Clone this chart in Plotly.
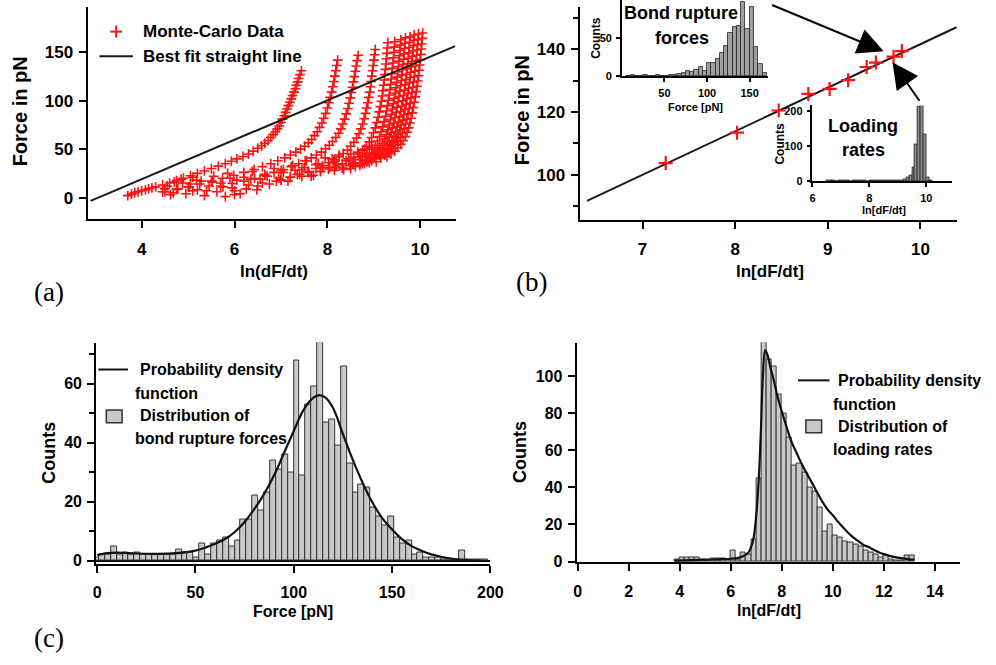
import plotly.graph_objects as go

W, H = 996, 665
FONT = "Liberation Sans, Arial, sans-serif"

# ---------------- (a) Monte-Carlo data, force vs ln(dF/dt) ----------------
c1_x = [3.70, 3.78, 3.85, 3.92, 4.00, 4.08, 4.15, 4.22, 4.30, 4.45, 4.60, 4.75, 4.90,
        5.05, 5.20, 5.35, 5.50, 5.65, 5.80, 5.93, 6.05, 6.18, 6.30, 6.40, 6.50, 6.58,
        6.65, 6.72, 6.78, 6.83, 6.88, 6.92, 6.96, 7.00, 7.03, 7.07, 7.10, 7.13, 7.16,
        7.19, 7.22, 7.25, 7.28, 7.31, 7.33, 7.36, 7.38, 7.41, 7.44]
c1_y = [2, 3.5, 5, 6, 7, 8, 9, 10, 11, 13, 15, 17.5, 20, 22.5, 25, 27.5, 30, 32.5, 35,
        37.5, 40, 42.5, 45, 48, 51, 53.5, 56, 59, 62, 65, 68, 71, 74, 77.5, 81, 84.5, 88,
        91.5, 95, 98.5, 102, 105.5, 109, 112.5, 116, 119.5, 123, 127, 131]
c2_x = [8.22, 8.20, 8.18, 8.16, 8.14, 8.115, 8.09, 8.06, 8.03, 8.00, 7.96, 7.92, 7.88,
        7.83, 7.78, 7.72, 7.66, 7.59, 7.51, 7.42, 7.32, 7.20, 7.08, 6.93, 6.78, 6.60,
        6.42, 6.20, 5.98, 5.74, 5.50, 5.25, 5.00, 4.75, 4.50]
c2_y = [142, 136.5, 131, 125.5, 120, 114.5, 109, 103.5, 98, 92.5, 87, 82, 77, 72.5, 68,
        64, 60, 56.5, 53, 50, 47, 44, 41, 38, 35, 32, 29, 26, 23, 20, 17, 14, 11, 8.5, 6]
c3_x = [8.66, 8.64, 8.62, 8.60, 8.58, 8.56, 8.54, 8.515, 8.49, 8.465, 8.44, 8.405, 8.37,
        8.33, 8.29, 8.24, 8.18, 8.11, 8.04, 7.96, 7.87, 7.76, 7.65, 7.52, 7.38, 7.22,
        7.05, 6.85, 6.65, 6.43, 6.20, 5.95, 5.70, 5.10]
c3_y = [147, 141.5, 136, 130.5, 125, 119.5, 114, 108.5, 103, 97.5, 92, 86.5, 81, 76, 71,
        66.5, 62, 58, 54, 50.5, 47, 44, 41, 38, 35, 32, 29, 26, 23, 20, 17, 14.5, 12, 7]
c4_x = [9.03, 9.015, 9.00, 8.985, 8.97, 8.955, 8.94, 8.925, 8.91, 8.89, 8.87, 8.845,
        8.82, 8.79, 8.76, 8.72, 8.68, 8.63, 8.57, 8.50, 8.43, 8.34, 8.25, 8.14, 8.02,
        7.89, 7.75, 7.58, 7.40, 7.20, 7.00, 6.50, 6.00]
c4_y = [153, 147.5, 142, 136.5, 131, 125.5, 120, 114.5, 109, 103.5, 98, 92.5, 87, 81.5,
        76, 71, 66, 61.5, 57, 53, 49, 45.5, 42, 39, 36, 33, 30, 27, 24, 21, 18, 12, 7]
c5_x = [9.30, 9.29, 9.28, 9.27, 9.26, 9.248, 9.235, 9.222, 9.21, 9.195, 9.18, 9.16,
        9.14, 9.115, 9.09, 9.06, 9.03, 8.99, 8.95, 8.90, 8.84, 8.76, 8.68, 8.57, 8.46,
        8.32, 8.18, 8.02, 7.85, 7.45, 7.00]
c5_y = [160, 154.5, 149, 143.5, 138, 132.5, 127, 121.5, 116, 110.5, 105, 99.5, 94, 88.5,
        83, 77.5, 72, 67, 62, 57.5, 53, 49, 45, 41.5, 38, 35, 32, 29.5, 27, 22, 18]
c6_x = [9.45, 9.44, 9.43, 9.42, 9.41, 9.398, 9.385, 9.372, 9.36, 9.345, 9.33, 9.31,
        9.29, 9.27, 9.25, 9.22, 9.19, 9.155, 9.12, 9.075, 9.03, 8.965, 8.90, 8.81, 8.72,
        8.60, 8.48, 8.32, 8.15, 7.70]
c6_y = [161, 155.5, 150, 144.5, 139, 133.5, 128, 122.5, 117, 111.5, 106, 100.5, 95,
        89.5, 84, 78.5, 73, 68, 63, 58.5, 54, 50, 46, 42.5, 39, 36, 33, 30.5, 28, 23]
c7_x = [9.58, 9.57, 9.56, 9.55, 9.54, 9.528, 9.515, 9.502, 9.49, 9.475, 9.46, 9.44,
        9.42, 9.40, 9.38, 9.355, 9.33, 9.30, 9.27, 9.23, 9.19, 9.135, 9.08, 9.01, 8.94,
        8.845, 8.75, 8.50]
c7_y = [163, 157.5, 152, 146.5, 141, 135.5, 130, 124.5, 119, 113.5, 108, 102.5, 97,
        91.5, 86, 80.5, 75, 70, 65, 60.5, 56, 52, 48, 44.5, 41, 38, 35, 30]
c8_x = [9.68, 9.67, 9.66, 9.65, 9.64, 9.628, 9.615, 9.602, 9.59, 9.575, 9.56, 9.54,
        9.52, 9.50, 9.48, 9.455, 9.43, 9.40, 9.37, 9.33, 9.29, 9.235, 9.18, 9.11, 9.04,
        8.945, 8.85, 8.60]
c8_y = [165, 159.5, 154, 148.5, 143, 137.5, 132, 126.5, 121, 115.5, 110, 104.5, 99,
        93.5, 88, 82.5, 77, 72, 67, 62.5, 58, 54, 50, 46.5, 43, 40, 37, 32]
c9_x = [9.78, 9.77, 9.76, 9.75, 9.74, 9.728, 9.715, 9.702, 9.69, 9.675, 9.66, 9.64,
        9.62, 9.60, 9.58, 9.555, 9.53, 9.50, 9.47, 9.43, 9.39, 9.335, 9.28, 9.21, 9.14,
        9.045, 8.95, 8.70]
c9_y = [166, 160.5, 155, 149.5, 144, 138.5, 133, 127.5, 122, 116.5, 111, 105.5, 100,
        94.5, 89, 83.5, 78, 73, 68, 63.5, 59, 55, 51, 47.5, 44, 41, 38, 33]
c10_x = [9.87, 9.86, 9.85, 9.84, 9.83, 9.818, 9.805, 9.792, 9.78, 9.765, 9.75, 9.73,
         9.71, 9.69, 9.67, 9.645, 9.62, 9.59, 9.56, 9.52, 9.48, 9.425, 9.37, 9.30, 9.23,
         9.14, 9.05, 8.80]
c10_y = [168, 162.5, 157, 151.5, 146, 140.5, 135, 129.5, 124, 118.5, 113, 107.5, 102,
         96.5, 91, 85.5, 80, 75, 70, 65.5, 61, 57, 53, 49.5, 46, 43, 40, 35]
c11_x = [9.96, 9.95, 9.94, 9.93, 9.92, 9.908, 9.895, 9.882, 9.87, 9.855, 9.84, 9.82,
         9.80, 9.78, 9.76, 9.735, 9.71, 9.68, 9.65, 9.61, 9.57, 9.515, 9.46, 9.39, 9.32,
         9.235, 9.15, 8.90]
c11_y = [169, 163.5, 158, 152.5, 147, 141.5, 136, 130.5, 125, 119.5, 114, 108.5, 103,
         97.5, 92, 86.5, 81, 76, 71, 66.5, 62, 58, 54, 50.5, 47, 44, 41, 36]
c12_x = [10.05, 10.04, 10.03, 10.02, 10.01, 9.998, 9.985, 9.972, 9.96, 9.945, 9.93,
         9.91, 9.89, 9.87, 9.85, 9.825, 9.80, 9.775, 9.75, 9.715, 9.68, 9.63, 9.58,
         9.515, 9.45, 9.365, 9.28, 9.05]
c12_y = [170, 164.5, 159, 153.5, 148, 142.5, 137, 131.5, 126, 120.5, 115, 109.5, 104,
         98.5, 93, 87.5, 82, 77, 72, 67.5, 63, 59, 55, 51.5, 48, 45, 42, 37]
cloud_x = [4.45, 4.55, 4.62, 4.70, 4.78, 4.85, 4.95, 5.05, 5.10, 5.20, 5.28, 5.35, 5.45,
           5.55, 5.62, 5.70, 5.80, 5.85, 5.95, 6.05, 6.12, 6.20, 6.30, 6.38, 6.48, 6.55,
           6.65, 6.75, 6.85, 6.95, 7.05, 7.15, 7.25, 7.35, 7.45, 7.55, 7.65, 7.75, 7.85,
           7.95, 8.05, 8.15, 8.25, 8.35, 8.45, 8.55, 8.65, 8.75, 8.85, 8.95,
           4.50, 4.68, 4.88, 5.02, 5.18, 5.40, 5.52, 5.75, 5.90, 6.00, 6.25, 6.35, 6.60,
           6.70, 6.90, 7.00, 7.20, 7.30, 7.50, 7.60, 7.80, 7.90, 8.10, 8.20, 8.40, 8.50,
           8.70, 8.80, 9.00, 9.10]
cloud_y = [6, 12, 3, 16, 9, 19, 4, 14, 21, 8, 17, 2, 12, 22, 6, 15, 1, 25, 10, 18, 4, 21,
           13, 27, 8, 19, 24, 14, 30, 20, 26, 17, 33, 24, 29, 38, 22, 34, 27, 41, 31, 37,
           44, 29, 40, 35, 47, 39, 44, 52,
           9, 5, 15, 11, 18, 7, 16, 11, 20, 3, 9, 19, 15, 22, 17, 28, 21, 28, 31, 26, 35,
           31, 40, 34, 38, 45, 42, 50, 46, 48]
fit_a_x = [2.9, 10.75]
fit_a_y = [-3.5, 156.5]

# ---------------- (b) most probable force vs loading rate ----------------
b_x = [7.25, 8.02, 8.47, 8.79, 9.02, 9.22, 9.42, 9.52, 9.71, 9.80]
b_y = [103.7, 113.4, 120.5, 125.8, 127.4, 130.2, 134.4, 135.8, 137.7, 139.5]
fit_b_x = [6.40, 10.39]
fit_b_y = [91.6, 147.1]

# inset: bond rupture forces (bin width 5)
ins1_start, ins1_bw = 7.5, 5
ins1_counts = [1, 2, 1, 1, 2, 1, 1, 2, 1, 1, 2, 2, 3, 5, 7, 6, 8, 12, 7, 17, 18, 22,
               30, 40, 56, 64, 66, 97, 62, 90, 38, 16, 5]
# inset: loading rates (bin width 0.1)
ins2_start, ins2_bw = 6.55, 0.1
ins2_counts = [1, 1, 1, 0, 1, 1, 1, 1, 0, 1, 1, 1, 1, 1, 0, 1, 1, 1, 1, 1, 1, 1, 1, 2,
               2, 3, 3, 5, 10, 15, 40, 105, 215, 219, 133, 10, 2]

# ---------------- (c) distribution of bond rupture forces (bin width 3) ----------------
c_start, c_bw = -0.5, 3
c_counts = [1, 2, 2, 5, 2, 3, 2, 3, 2, 2, 2, 2, 2, 2, 4, 3, 3, 1, 6, 2, 6, 7, 8, 5, 7,
            14, 14, 22, 17, 23, 34, 31, 36, 30, 68, 29, 53, 59, 74, 47, 48, 39, 66, 33,
            23, 26, 25, 18, 15, 12, 15, 8, 6, 7, 2, 3, 1, 1, 1, 0.5, 0.5, 0.5, 3.5, 0.5,
            0.5, 0.3, 0.3]
pdf_c_x = [0, 5, 10, 20, 30, 40, 50, 55, 60, 65, 70, 75, 80, 85, 90, 95, 100, 105, 110,
           113, 116, 120, 125, 130, 135, 140, 145, 150, 155, 160, 165, 170, 175, 180,
           185, 190, 195]
pdf_c_y = [2, 2.6, 2.8, 2.5, 2.4, 2.6, 3.5, 4.5, 5.8, 7.4, 9.8, 13.2, 17.6, 22.8, 29,
           36.5, 44, 51.2, 55.3, 56.2, 55.4, 51.8, 43, 34.3, 26.5, 19.8, 14.5, 10.6, 7.4,
           5, 3.4, 2.2, 1.4, 0.8, 0.4, 0.2, 0.1]

# ---------------- (d) distribution of loading rates (bin width 0.2) ----------------
d_start, d_bw = 3.9, 0.2
d_counts = [1, 2, 2, 2, 2, 1, 0.5, 1.5, 1.5, 1.5, 1, 6, 1, 5, 4, 12, 45, 118, 109, 105,
            90, 80, 67, 52, 53, 48, 40, 38, 29, 16, 20, 14, 13, 11, 10, 9, 8, 6, 5, 4, 2,
            3, 1, 0.5, 0.5, 3, 3]
pdf_d_x = [3.8, 4.5, 5.0, 5.5, 6.0, 6.3, 6.5, 6.7, 6.8, 6.9, 7.0, 7.1, 7.18, 7.26, 7.35,
           7.45, 7.55, 7.7, 7.85, 8.0, 8.2, 8.4, 8.6, 8.8, 9.0, 9.2, 9.4, 9.6, 9.8, 10.0,
           10.2, 10.4, 10.6, 10.8, 11.0, 11.2, 11.4, 11.6, 11.8, 12.0, 12.3, 12.6, 13.0, 13.2]
pdf_d_y = [0.5, 0.8, 1.0, 1.2, 1.5, 2.0, 3.0, 5.0, 8.0, 13, 25, 45, 70, 100, 114, 111,
           105, 97, 88, 81, 72, 64, 58, 52, 47, 42, 37, 32, 28, 25, 21.5, 18.5, 15.5, 13,
           11, 9, 7.8, 6.3, 5.0, 4.0, 2.8, 2.0, 1.2, 1.0]


def centers(start, bw, counts):
    return [start + bw * i for i in range(len(counts))]


def px(x):
    return x / W


def py(y):
    return 1 - y / H


mc_x = (c1_x + c2_x + c3_x + c4_x + c5_x + c6_x + c7_x + c8_x + c9_x + c10_x + c11_x
        + c12_x + cloud_x)
mc_y = (c1_y + c2_y + c3_y + c4_y + c5_y + c6_y + c7_y + c8_y + c9_y + c10_y + c11_y
        + c12_y + cloud_y)

RED = "#ff1010"
bar_line = dict(color="#333333", width=1)

fig = go.Figure()
fig.add_trace(go.Scatter(x=mc_x, y=mc_y, mode="markers", xaxis="x", yaxis="y",
                         marker=dict(symbol="cross-thin", size=7, color=RED,
                                     line=dict(color=RED, width=1.6))))
fig.add_trace(go.Scatter(x=fit_a_x, y=fit_a_y, mode="lines", xaxis="x", yaxis="y",
                         line=dict(color="#1a1a1a", width=2)))

fig.add_trace(go.Scatter(x=fit_b_x, y=fit_b_y, mode="lines", xaxis="x2", yaxis="y2",
                         line=dict(color="#1a1a1a", width=2)))
fig.add_trace(go.Scatter(x=b_x, y=b_y, mode="markers", xaxis="x2", yaxis="y2",
                         marker=dict(symbol="cross-thin", size=10, color=RED,
                                     line=dict(color=RED, width=2.2))))

fig.add_trace(go.Bar(x=centers(ins1_start, ins1_bw, ins1_counts), y=ins1_counts,
                     width=ins1_bw, xaxis="x3", yaxis="y3",
                     marker=dict(color="#a0a0a0", line=dict(color="#222", width=0.8))))
fig.add_trace(go.Bar(x=centers(ins2_start, ins2_bw, ins2_counts), y=ins2_counts,
                     width=ins2_bw, xaxis="x4", yaxis="y4",
                     marker=dict(color="#8c8c8c", line=dict(color="#222", width=0.8))))

fig.add_trace(go.Bar(x=centers(c_start, c_bw, c_counts), y=c_counts, width=c_bw,
                     xaxis="x5", yaxis="y5",
                     marker=dict(color="#c8c8c8", line=bar_line)))
fig.add_trace(go.Scatter(x=pdf_c_x, y=pdf_c_y, mode="lines", line_shape="spline",
                         xaxis="x5", yaxis="y5", line=dict(color="#111", width=2.2)))

fig.add_trace(go.Bar(x=centers(d_start, d_bw, d_counts), y=d_counts, width=d_bw,
                     xaxis="x6", yaxis="y6",
                     marker=dict(color="#c8c8c8", line=bar_line)))
fig.add_trace(go.Scatter(x=pdf_d_x, y=pdf_d_y, mode="lines", line_shape="spline",
                         xaxis="x6", yaxis="y6", line=dict(color="#111", width=2.2)))


def axis(dom, rng, anchor, size=17, lw=2, tl=7, standoff=2, **kw):
    d = dict(domain=dom, range=rng, anchor=anchor, showline=True, linecolor="black",
             linewidth=lw, ticks="outside", ticklen=tl, tickwidth=lw, tickcolor="black",
             showgrid=False, zeroline=False, ticklabelstandoff=standoff,
             tickfont=dict(family=FONT, size=size, color="black", weight="bold"))
    d.update(kw)
    return d


minor_b = dict(dtick=10, ticklen=5, tickwidth=2, tickcolor="black", ticks="outside")
minor_c = dict(dtick=10, ticklen=5, tickwidth=2, tickcolor="black", ticks="outside")

fig.update_layout(
    width=W, height=H, margin=dict(l=0, r=0, t=0, b=0),
    paper_bgcolor="white", plot_bgcolor="rgba(0,0,0,0)", showlegend=False,
    barmode="overlay", bargap=0,
    xaxis=axis([px(86), px(460)], [2.835, 10.76], "y", tickvals=[4, 6, 8, 10], standoff=6),
    yaxis=axis([py(222), py(7)], [-22.5, 197], "x", tickvals=[0, 50, 100, 150]),
    xaxis2=axis([px(586), px(970)], [6.32, 10.4], "y2", tickvals=[7, 8, 9, 10], standoff=6),
    yaxis2=axis([py(222.7), py(7)], [85.5, 153.6], "x2", tickvals=[100, 120, 140],
                minor=minor_b),
    xaxis3=axis([px(629), px(777)], [0, 171], "y3", size=11, lw=1.5, tl=4,
                tickvals=[50, 100, 150]),
    yaxis3=axis([py(77.3), py(0)], [0, 99.5], "x3", size=11, lw=1.5, tl=4,
                tickvals=[0, 50]),
    xaxis4=axis([px(822.7), px(965)], [6, 10.92], "y4", size=11, lw=1.5, tl=4,
                tickvals=[6, 8, 10]),
    yaxis4=axis([py(183.3), py(106.7)], [0, 217], "x4", size=11, lw=1.5, tl=4,
                tickvals=[0, 100, 200]),
    xaxis5=axis([px(94.7), px(495.3)], [-0.5, 200], "y5", size=16,
                tickvals=[0, 50, 100, 150, 200], standoff=6),
    yaxis5=axis([py(570.7), py(346.7)], [-1, 74], "x5", size=16,
                tickvals=[0, 20, 40, 60], minor=minor_c, zeroline=True,
                zerolinecolor="black", zerolinewidth=2),
    xaxis6=axis([px(583), px(973)], [-0.04, 15], "y6", size=16,
                tickvals=[0, 2, 4, 6, 8, 10, 12, 14], standoff=6),
    yaxis6=axis([py(569.3), py(346.7)], [-0.5, 118.1], "x6", size=16,
                tickvals=[0, 20, 40, 60, 80, 100]),
)

ann = []


def text(x, y, s, size, bold=True, angle=0, xanchor="center", family=FONT, color="black"):
    ann.append(dict(x=px(x), y=py(y), xref="paper", yref="paper", text=s, showarrow=False,
                    textangle=angle, xanchor=xanchor, yanchor="middle",
                    font=dict(family=family, size=size, color=color,
                              weight="bold" if bold else "normal")))


SERIF = "Liberation Serif, Times New Roman, serif"
# axis titles
text(275, 275, "ln(dF/dt)", 17)
text(17, 113, "Force in pN", 20, angle=-90)
text(780, 275, "ln[dF/dt]", 17)
text(527, 112, "Force in pN", 20, angle=-90)
text(295, 619, "Force [pN]", 16)
text(47, 458, "Counts", 18, angle=-90)
text(778, 618, "ln[dF/dt]", 16)
text(526, 458, "Counts", 18, angle=-90)
text(704, 108, "Force [pN]", 11)
text(602, 38, "Counts", 12, angle=-90)
text(895, 213, "ln[dF/dt]", 11)
text(790, 145, "Counts", 12, angle=-90)
# panel letters
text(47, 296, "(a)", 27, bold=False, family=SERIF)
text(537, 285, "(b)", 27, bold=False, family=SERIF)
text(47, 646, "(c)", 27, bold=False, family=SERIF)
# inset captions
text(689, 13, "Bond rupture", 18)
text(690, 38, "forces", 18)
text(874, 128, "Loading", 18)
text(875, 152, "rates", 18)
# legends
text(140, 32, "Monte-Carlo Data", 17, xanchor="left")
text(140, 57, "Best fit straight line", 17, xanchor="left")
text(137, 374, "Probability density", 16, xanchor="left")
text(132, 398, "function", 16, xanchor="left")
text(137, 421, "Distribution of", 16, xanchor="left")
text(132, 444, "bond rupture forces", 16, xanchor="left")
text(847, 385, "Probability density", 16, xanchor="left")
text(842, 409, "function", 16, xanchor="left")
text(847, 432, "Distribution of", 16, xanchor="left")
text(842, 455, "loading rates", 16, xanchor="left")

# arrows pointing at the inset origins
for tip, tail in [((895, 52), (782, 5)), ((904, 63), (932, 103))]:
    ann.append(dict(x=px(tip[0]), y=py(tip[1]), xref="paper", yref="paper", text="",
                    showarrow=True, arrowhead=2, arrowsize=2.6, arrowwidth=2,
                    arrowcolor="black", ax=tail[0] - tip[0], ay=tail[1] - tip[1]))
fig.update_layout(annotations=ann)

shapes = []


def seg(x0, y0, x1, y1, color="black", w=2):
    shapes.append(dict(type="line", xref="paper", yref="paper", x0=px(x0), y0=py(y0),
                       x1=px(x1), y1=py(y1), line=dict(color=color, width=w)))


seg(109, 32, 121, 32, RED)
seg(115, 26, 115, 38, RED)
seg(98, 57, 132, 57, "#1a1a1a")
seg(97, 374, 127, 374, "#111")
seg(808, 385, 840, 385, "#111")
for x0, y0 in [(105, 415), (816, 425)]:
    shapes.append(dict(type="rect", xref="paper", yref="paper", x0=px(x0), y0=py(y0),
                       x1=px(x0 + 16), y1=py(y0 + 13), fillcolor="#c8c8c8",
                       line=dict(color="#333", width=1.5)))
fig.update_layout(shapes=shapes)

# the page body has a default 8px margin; remove it so the figure sits at (0, 0)
fig.write_html("out.html", config={"displayModeBar": False},
               post_script="document.body.style.margin='0px';")
